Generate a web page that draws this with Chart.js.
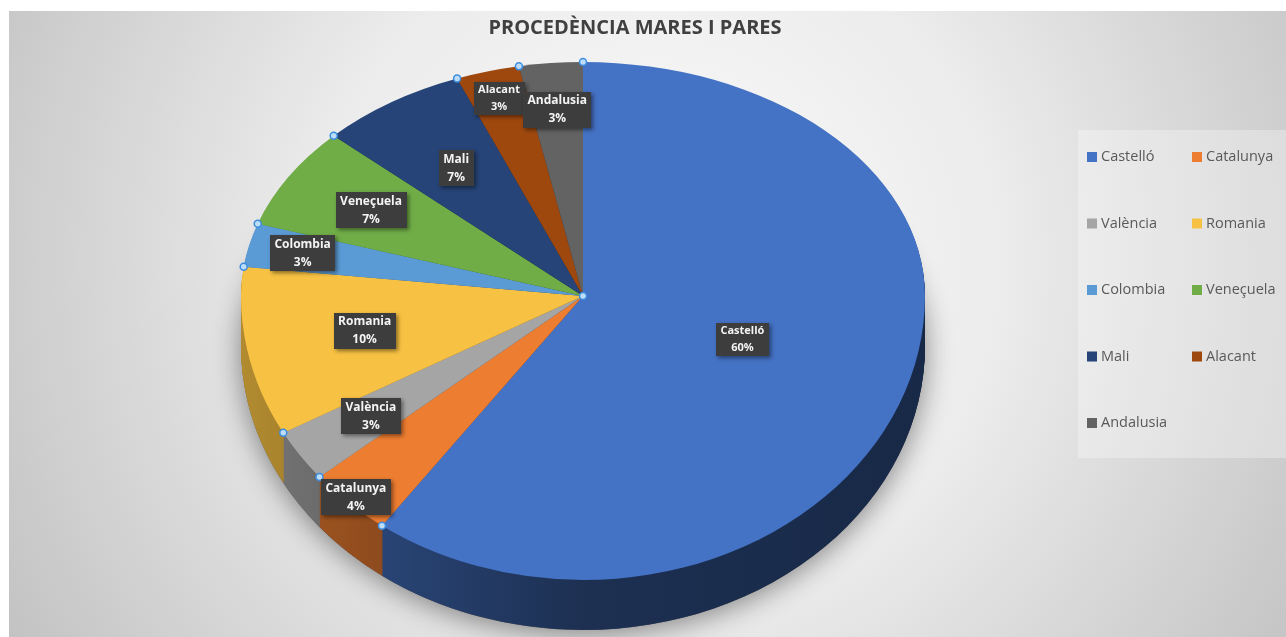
<!DOCTYPE html>
<html>
<head>
<meta charset="utf-8">
<script src="https://cdn.jsdelivr.net/npm/chart.js@4/dist/chart.umd.min.js"></script>
<style>
    html, body { margin: 0; padding: 0; background: #ffffff; }
    #wrap { width: 1286px; height: 637px; position: relative; }
</style>
</head>
<body>
<div id="wrap"><canvas id="pieChart"></canvas></div>
<script>
// Data
const chartTitle = 'PROCEDÈNCIA MARES I PARES';
const regions = ['Castelló', 'Catalunya', 'València', 'Romania', 'Colombia', 'Veneçuela', 'Mali', 'Alacant', 'Andalusia'];
const shares = [60, 4, 3, 10, 3, 7, 7, 3, 3];
const sliceColors = ['#4472C4', '#ED7D31', '#A5A5A5', '#F7C143', '#5B9BD5', '#70AD47', '#264478', '#9E480E', '#636363'];

// Look of the fake 3D pie
const CX = 583, CY = 296, RX = 342, RY_BACK = 234, RY_FRONT = 284, DEPTH = 50;
const labelDist = [0.49, 0.97, 0.75, 0.65, 0.84, 0.72, 0.66, 0.88, 0.8];
const labelSize = [11, 12, 12, 12, 12, 12, 12, 11, 12];
const FONT = '"Open Sans", "Liberation Sans", sans-serif';

function shade(hex, f) {
    const n = parseInt(hex.slice(1), 16);
    const r = Math.round(((n >> 16) & 255) * f);
    const g = Math.round(((n >> 8) & 255) * f);
    const b = Math.round((n & 255) * f);
    return 'rgb(' + r + ',' + g + ',' + b + ')';
}

// draw all slices squashed into the two half ellipses, shifted down by dy
function drawFace(ctx, chart, arcs, dy, fillFor) {
    const W = chart.width, H = chart.height;
    const halves = [
        { ry: RY_BACK, clip: [0, 0, W, CY + dy] },
        { ry: RY_FRONT, clip: [0, CY + dy, W, H] }
    ];
    halves.forEach(function(half) {
        ctx.save();
        ctx.beginPath();
        ctx.rect.apply(ctx, half.clip);
        ctx.clip();
        const el0 = arcs[0];
        const r = el0.outerRadius;
        ctx.translate(CX, CY + dy);
        ctx.scale(RX / r, half.ry / r);
        ctx.translate(-el0.x, -el0.y);
        arcs.forEach(function(el, i) {
            ctx.beginPath();
            ctx.moveTo(el.x, el.y);
            ctx.arc(el.x, el.y, r, el.startAngle, el.endAngle);
            ctx.closePath();
            ctx.fillStyle = fillFor(ctx, el, i, r);
            ctx.fill();
        });
        ctx.restore();
    });
}

const pie3d = {
    id: 'pie3d',
    beforeDraw(chart) {
        const ctx = chart.ctx;
        ctx.save();
        ctx.fillStyle = '#ffffff';
        ctx.fillRect(0, 0, chart.width, chart.height);
        const g = ctx.createRadialGradient(660, 260, 0, 660, 260, 760);
        g.addColorStop(0, '#fbfbfb');
        g.addColorStop(0.45, '#ececec');
        g.addColorStop(1, '#c2c2c2');
        ctx.fillStyle = g;
        ctx.fillRect(9, 11, chart.width - 9, chart.height - 11);

        ctx.fillStyle = '#404040';
        ctx.font = 'bold 20px ' + FONT;
        ctx.textAlign = 'center';
        ctx.textBaseline = 'middle';
        ctx.fillText(chartTitle, 635, 28);
        ctx.restore();
    },
    beforeDatasetsDraw(chart) {
        const ctx = chart.ctx;
        const arcs = chart.getDatasetMeta(0).data;

        // soft shadow under the pie
        ctx.save();
        ctx.shadowColor = 'rgba(0,0,0,0.45)';
        ctx.shadowBlur = 28;
        ctx.shadowOffsetY = 4;
        ctx.fillStyle = '#555555';
        ctx.beginPath();
        ctx.ellipse(CX, CY + DEPTH, RX, RY_FRONT, 0, 0, Math.PI);
        ctx.ellipse(CX, CY + DEPTH, RX, RY_BACK, 0, Math.PI, 2 * Math.PI);
        ctx.fill();
        ctx.restore();

        // side wall
        for (let k = DEPTH; k >= 1; k--) {
            drawFace(ctx, chart, arcs, k, function(c, el, i, r) {
                const g = c.createLinearGradient(el.x - r, 0, el.x + r, 0);
                g.addColorStop(0, shade(sliceColors[i], 0.72));
                g.addColorStop(0.5, shade(sliceColors[i], 0.42));
                g.addColorStop(1, shade(sliceColors[i], 0.36));
                return g;
            });
        }
        // top face
        drawFace(ctx, chart, arcs, 0, function(c, el, i) {
            return sliceColors[i];
        });
        return false;
    },
    afterDraw(chart) {
        const ctx = chart.ctx;
        const arcs = chart.getDatasetMeta(0).data;
        const total = shares.reduce(function(a, b) { return a + b; }, 0);

        // selection handles at the slice edges
        ctx.save();
        const handles = arcs.map(function(el) {
            const c = Math.cos(el.startAngle), s = Math.sin(el.startAngle);
            return [CX + RX * c, CY + (s > 0 ? RY_FRONT : RY_BACK) * s];
        });
        handles.push([CX, CY]);
        handles.forEach(function(p) {
            ctx.beginPath();
            ctx.arc(p[0], p[1], 3.5, 0, 2 * Math.PI);
            ctx.fillStyle = '#bcdcf8';
            ctx.fill();
            ctx.lineWidth = 1.5;
            ctx.strokeStyle = '#3b8de0';
            ctx.stroke();
        });
        ctx.restore();

        // data labels
        arcs.forEach(function(el, i) {
            const mid = (el.startAngle + el.endAngle) / 2;
            const c = Math.cos(mid), s = Math.sin(mid);
            const x = CX + labelDist[i] * RX * c;
            const y = CY + labelDist[i] * (s > 0 ? RY_FRONT : RY_BACK) * s;
            const pct = Math.round(shares[i] / total * 100) + '%';
            const size = labelSize[i];
            ctx.save();
            ctx.font = 'bold ' + size + 'px ' + FONT;
            const w = Math.max(ctx.measureText(regions[i]).width, ctx.measureText(pct).width) + 9;
            const h = size * 3;
            ctx.shadowColor = 'rgba(0,0,0,0.45)';
            ctx.shadowBlur = 4;
            ctx.shadowOffsetX = 2;
            ctx.shadowOffsetY = 2;
            ctx.fillStyle = '#3d3d3d';
            ctx.fillRect(Math.round(x - w / 2), Math.round(y - h / 2), Math.round(w), Math.round(h));
            ctx.shadowColor = 'transparent';
            ctx.fillStyle = '#f4f4f4';
            ctx.textAlign = 'center';
            ctx.textBaseline = 'middle';
            ctx.fillText(regions[i], x, y - size * 0.72);
            ctx.fillText(pct, x, y + size * 0.78);
            ctx.restore();
        });

        // legend, row by row in two columns
        ctx.save();
        ctx.fillStyle = 'rgba(255,255,255,0.3)';
        ctx.fillRect(1078, 130, 208, 328);
        ctx.font = '14.5px ' + FONT;
        ctx.textBaseline = 'middle';
        regions.forEach(function(name, i) {
            const col = i % 2, row = Math.floor(i / 2);
            const x = col === 0 ? 1087 : 1192;
            const y = 157 + row * 66.5;
            ctx.fillStyle = sliceColors[i];
            ctx.fillRect(x, y - 5, 10, 10);
            ctx.fillStyle = '#595959';
            ctx.fillText(name, x + 14, y);
        });
        ctx.restore();
    }
};

document.addEventListener('DOMContentLoaded', function() {
    const ctx = document.getElementById('pieChart').getContext('2d');
    new Chart(ctx, {
        type: 'pie',
        data: {
            labels: regions,
            datasets: [{
                data: shares,
                backgroundColor: sliceColors,
                borderWidth: 0
            }]
        },
        options: {
            responsive: true,
            maintainAspectRatio: false,
            animation: false,
            events: [],
            plugins: {
                legend: { display: false },
                tooltip: { enabled: false }
            }
        },
        plugins: [pie3d]
    });
});
</script>
</body>
</html>
